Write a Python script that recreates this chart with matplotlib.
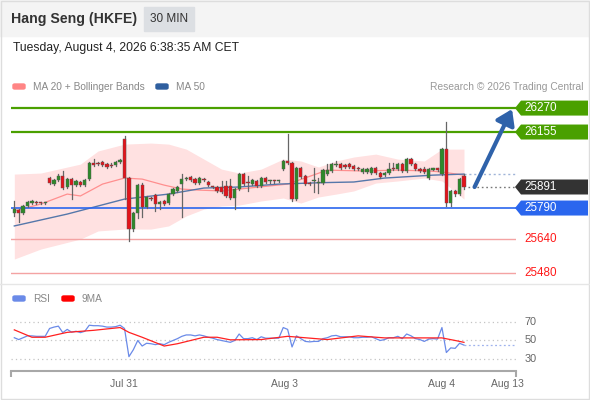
import numpy as np
import matplotlib
matplotlib.use("Agg")
import matplotlib.pyplot as plt
from matplotlib.patches import Rectangle, Polygon, FancyBboxPatch, FancyArrowPatch
from matplotlib.transforms import blended_transform_factory

plt.rcParams["font.family"] = ["Liberation Sans", "DejaVu Sans"]

# ---- data (30 min candles) ----
opens = [25766, 25780, 25766, 25800, 25814, 25816, 25814, 25812, 25934, 25905,
         25924, 25944, 25891, 25929, 25900, 25915, 25900, 25929, 26006, 26006,
         26011, 26001, 25999, 25996, 26011, 26121, 25934, 25689, 25766, 25900,
         25795, 25838, 25852, 25809, 25824, 25814, 25857, 25872, 25905, 25929,
         25939, 25929, 25910, 25929, 25915, 25893, 25891, 25891, 25896, 25896,
         25838, 25881, 25953, 25912, 25905, 25920, 25896, 25934, 25918, 25920,
         25918, 25977, 26016, 26006, 25833, 25982, 25944, 25910, 25918, 25910,
         25910, 25953, 25968, 25996, 26001, 25996, 26001, 25992, 25982, 25963,
         25963, 25958, 25982, 25958, 25948, 25958, 25982, 25977, 26001, 25968,
         26025, 26001, 25977, 25977, 25934, 25975, 25977, 25953, 26073, 25814,
         25872, 25857, 25944]
highs = [25824, 25785, 25804, 25824, 25829, 25822, 25819, 25819, 25939, 25929,
         25953, 25968, 25934, 25934, 25924, 25920, 25929, 26011, 26025, 26011,
         26016, 26006, 26004, 26016, 26025, 26136, 25939, 25771, 25905, 25910,
         25848, 25843, 25857, 25824, 25828, 25862, 25886, 25896, 25953, 25939,
         25944, 25934, 25939, 25934, 25920, 25896, 25896, 25920, 25920, 25929,
         25886, 25958, 25958, 25944, 25929, 25924, 25939, 25939, 25924, 25924,
         25924, 26020, 26145, 26011, 25987, 25987, 25948, 25915, 25982, 25934,
         25977, 26001, 26006, 26016, 26006, 26001, 26006, 25996, 25987, 25982,
         25982, 25987, 25987, 25963, 25963, 26006, 26006, 26006, 26006, 26030,
         26030, 26006, 25982, 25987, 25982, 25982, 25982, 26078, 26203, 25876,
         25876, 25934, 25953]
lows = [25752, 25723, 25761, 25795, 25809, 25809, 25807, 25809, 25905, 25900,
        25920, 25881, 25886, 25833, 25896, 25896, 25896, 25924, 25992, 25996,
        25992, 25982, 25987, 25992, 26006, 25833, 25632, 25680, 25742, 25747,
        25790, 25828, 25776, 25785, 25804, 25809, 25852, 25867, 25747, 25924,
        25920, 25905, 25905, 25920, 25896, 25886, 25867, 25862, 25843, 25833,
        25785, 25876, 25900, 25872, 25900, 25891, 25891, 25910, 25912, 25912,
        25915, 25972, 26001, 25824, 25828, 25934, 25900, 25900, 25867, 25862,
        25905, 25948, 25963, 25992, 25977, 25982, 25982, 25972, 25972, 25958,
        25958, 25953, 25953, 25934, 25944, 25953, 25972, 25972, 25963, 25963,
        25996, 25972, 25963, 25958, 25929, 25972, 25970, 25948, 25800, 25800,
        25848, 25852, 25881]
closes = [25785, 25766, 25800, 25819, 25824, 25814, 25812, 25814, 25910, 25924,
          25944, 25886, 25929, 25900, 25920, 25900, 25924, 26006, 25996, 26001,
          25996, 25987, 25992, 26011, 26020, 25934, 25689, 25766, 25900, 25795,
          25843, 25833, 25809, 25819, 25809, 25857, 25881, 25891, 25929, 25934,
          25924, 25910, 25934, 25924, 25900, 25891, 25872, 25867, 25848, 25838,
          25881, 25953, 25905, 25910, 25924, 25896, 25934, 25915, 25920, 25918,
          25920, 26016, 26006, 25833, 25982, 25939, 25905, 25905, 25920, 25912,
          25972, 25972, 26001, 26001, 25982, 25987, 25987, 25977, 25977, 25977,
          25977, 25982, 25958, 25939, 25958, 25977, 25977, 26001, 25968, 26025,
          26001, 25977, 25968, 25963, 25977, 25977, 25975, 26073, 25814, 25872,
          25857, 25929, 25891]

# indicators, sampled at candle index
bb_idx = [0, 6, 15, 19, 25, 31, 35, 39, 43, 47, 51, 56, 61, 65, 69, 73, 77, 82, 87, 93, 97, 102]
bb_upper = [25953, 25958, 26001, 26064, 26097, 26102, 26097, 26073, 26025, 25977, 25958,
            25977, 26025, 26016, 25987, 26016, 26035, 26049, 26025, 26016, 26073, 26073]
bb_lower = [25545, 25593, 25641, 25680, 25689, 25689, 25704, 25752, 25785, 25800, 25804,
            25824, 25838, 25814, 25843, 25857, 25872, 25910, 25920, 25934, 25920, 25833]
ma20_idx = [0, 6, 12, 15, 20, 25, 29, 34, 38, 42, 47, 51, 62, 71, 79, 87, 94, 97, 102]
ma20 = [25776, 25809, 25857, 25848, 25905, 25934, 25929, 25900, 25881, 25876, 25872,
        25881, 25905, 25972, 25968, 25972, 25968, 25963, 25948]
ma50_idx = [0, 12, 25, 35, 43, 51, 60, 70, 77, 84, 95, 102]
ma50 = [25704, 25761, 25833, 25857, 25886, 25891, 25905, 25912, 25915, 25934, 25948, 25953]

rsi = [53, 51, 53, 55, 55, 54.5, 54.5, 54.5,
       63, 64.5, 65.5, 58.5, 62, 59, 60, 58.5, 60,
       66.5, 66, 66, 65.5, 64.5, 64.5, 65, 66.5,
       63,
       32.5, 40, 50, 44, 47, 46.5, 45.5, 46.5, 45.5,
       48, 50, 52, 54.5, 56, 56, 55, 56, 55, 53.5, 52.5, 51, 50, 49, 48,
       50, 57, 52, 52, 53, 51, 54, 52.5, 52.5, 52.5, 52.5,
       64, 62, 43, 55, 52, 49, 48.5, 49, 49,
       52, 53, 55, 55.5, 54, 54, 54, 53, 53, 53.5, 53.5, 54,
       52, 50, 51, 53, 53, 54.5, 52, 57, 55, 52, 51, 49, 51.5, 52, 51.5,
       64, 37, 42, 41.5, 47, 45]
ma9_idx = [0, 4, 7, 12, 18, 24, 26, 29, 34, 37, 43, 46, 49, 56, 62, 71, 78, 84, 97, 100, 102]
ma9 = [61.5, 53.5, 53.5, 58.8, 61, 64, 58.8, 53.5, 44, 46.5, 53.5, 53.5, 50.7, 51, 54.5,
       51, 55, 52.8, 52.8, 50, 48]

levels = [26270, 26155, 25891, 25790, 25640, 25480]
level_kind = ["res", "res", "last", "sup", "weak", "weak"]
target = 26270

tick_pos = [24.9, 61.2, 97.0, 111.9]
tick_lab = ["Jul 31", "Aug 3", "Aug 4", "Aug 13"]

W, H = 590, 400


def box(x0, y0, x1, y1):
    # pixel box (from top-left) -> figure rect
    return [x0 / W, 1 - y1 / H, (x1 - x0) / W, (y1 - y0) / H]


fig = plt.figure(figsize=(W / 100, H / 100), dpi=100)
fig.patch.set_facecolor("white")

# header band
fig.patches.append(Rectangle((0, 1 - 36 / H), 1, 36 / H, transform=fig.transFigure,
                             color="#f4f4f4", zorder=0))
fig.text(11 / W, 1 - 19.5 / H, "Hang Seng (HKFE)", fontsize=10.2, fontweight="bold",
         color="#333333", va="center")
fig.patches.append(Rectangle((144 / W, 1 - 31 / H), 50 / W, 24 / H, transform=fig.transFigure,
                             color="#dcdfe3", zorder=1))
fig.text(169 / W, 1 - 19.5 / H, "30 MIN", fontsize=8.5, color="#333333", ha="center", va="center")
fig.text(13 / W, 1 - 48.5 / H, "Tuesday, August 4, 2026 6:38:35 AM CET", fontsize=8.7,
         color="#222222", va="center")

# legends
def legend_item(x, y, col, label):
    fig.patches.append(FancyBboxPatch((x / W, 1 - (y + 2.5) / H), 12 / W, 5 / H,
                                      boxstyle="round,pad=0,rounding_size=0.003",
                                      transform=fig.transFigure, color=col))
    fig.text((x + 20) / W, 1 - y / H, label, fontsize=7.3, color="#888888", va="center")

legend_item(13, 86.5, "#ff8585", "MA 20 + Bollinger Bands")
legend_item(156, 86.5, "#2f5f9f", "MA 50")
fig.text(584 / W, 1 - 86.5 / H, "Research \u00a9 2026 Trading Central", fontsize=7.4,
         color="#999999", ha="right", va="center")
legend_item(13, 298.5, "#6a8ae8", "RSI")
legend_item(62, 298.5, "#ff0000", "9MA")

# separators / frame
fig.lines.append(plt.Line2D([0, 1], [1 - 284 / H] * 2, transform=fig.transFigure,
                            color="#e6e6e6", lw=1))
fig.patches.append(Rectangle((0.001, 0.002), 0.997, 0.996, transform=fig.transFigure,
                             fill=False, edgecolor="#dddddd", lw=1))

# ---- price panel ----
ax = fig.add_axes(box(11, 96, 516, 283))
ax.set_xlim(-0.75, 113.8)
ax.set_ylim(25430, 26328)
ax.axis("off")

ax.fill_between(bb_idx, bb_lower, bb_upper, color="#ffe1e1", lw=0, zorder=1)
ax.plot(ma20_idx, ma20, color="#ff8f8f", lw=0.9, zorder=2)
ax.plot(ma50_idx, ma50, color="#5577aa", lw=1.0, zorder=2)
ax.plot([ma50_idx[-1], 113.8], [ma50[-1]] * 2, color="#9fb4d8", lw=1, ls=(0, (1.5, 2)), zorder=2)

idx = np.arange(len(closes))
for i in idx:
    o, h, l, c = opens[i], highs[i], lows[i], closes[i]
    up = c >= o
    col = "#2e8a2a" if up else "#e3141b"
    ax.plot([i, i], [l, h], color="#666666", lw=0.9, zorder=3)
    lo, hi = min(o, c), max(o, c)
    if hi - lo < 5:
        hi = lo + 5
    ax.add_patch(Rectangle((i - 0.37, lo), 0.74, hi - lo, facecolor=col,
                           edgecolor="#555555", lw=0.3, zorder=4))

# horizontal levels
style = {"res": ("#4aa000", 1.6), "sup": ("#2a66ee", 1.2), "weak": ("#f4a3a3", 1.0)}
bt = blended_transform_factory(ax.transAxes, ax.transData)
half = 7.5 * 4.8
for lv, kind in zip(levels, level_kind):
    if kind == "last":
        ax.plot([len(closes) - 0.2, 113.8], [lv, lv], color="#777777", lw=1,
                ls=(0, (1.2, 2)), zorder=2)
        fc = "#333333"
    else:
        col, lw = style[kind]
        ax.axhline(lv, color=col, lw=lw, zorder=2)
        fc = col if kind != "weak" else None
    if fc is None:
        ax.text(1.0168, lv, f"{lv}", transform=bt, color="#ff1a1a", fontsize=8.4,
                va="center", ha="left", clip_on=False)
    else:
        pts = [(0.998, lv), (1.0099, lv + half), (1.1426, lv + half),
               (1.1426, lv - half), (1.0099, lv - half)]
        ax.add_patch(Polygon(pts, closed=True, transform=bt, facecolor=fc,
                             edgecolor="none", clip_on=False, zorder=5))
        ax.text(1.0168, lv, f"{lv}", transform=bt, color="white", fontsize=8.4,
                va="center", ha="left", clip_on=False, zorder=6)

# forecast arrow
ax.add_patch(FancyArrowPatch((104.4, closes[-1]), (112.9, target - 5),
                             arrowstyle="-|>,head_length=0.75,head_width=0.5",
                             mutation_scale=12, color="#2f62aa", lw=3, zorder=6,
                             shrinkA=0, shrinkB=0))

# ---- RSI panel ----
ar = fig.add_axes(box(11, 306, 516, 371))
ar.set_xlim(-0.75, 113.8)
ar.set_ylim(17, 87.3)
for s in ["top", "right", "left"]:
    ar.spines[s].set_visible(False)
ar.spines["bottom"].set_color("#a8a8a8")
ar.spines["bottom"].set_linewidth(1.5)
ar.set_yticks([])
ar.set_xticks(tick_pos)
ar.set_xticklabels(tick_lab)
ar.tick_params(axis="x", length=0, pad=6, labelsize=7.5, labelcolor="#666666")
ar.set_xticks([-0.75, 113.8], minor=True)
ar.tick_params(axis="x", which="minor", length=4, width=1.5, color="#a8a8a8")

bt2 = blended_transform_factory(ar.transAxes, ar.transData)
for v in [70, 50, 30]:
    ar.axhline(v, color="#c4c4c4", lw=0.9, ls=(0, (1, 2.5)))
    ar.text(1.0178, v, str(v), transform=bt2, fontsize=7.8, color="#666666",
            va="center", ha="left", clip_on=False)

ar.plot(idx, rsi, color="#6a8ae8", lw=0.9, zorder=3)
ar.plot([idx[-1], 113.8], [rsi[-1]] * 2, color="#9fb2ee", lw=0.9, ls=(0, (1.5, 2)))
ar.plot(ma9_idx, ma9, color="#ff2020", lw=0.9, zorder=4)

fig.savefig("out.png", dpi=100, facecolor="white")
